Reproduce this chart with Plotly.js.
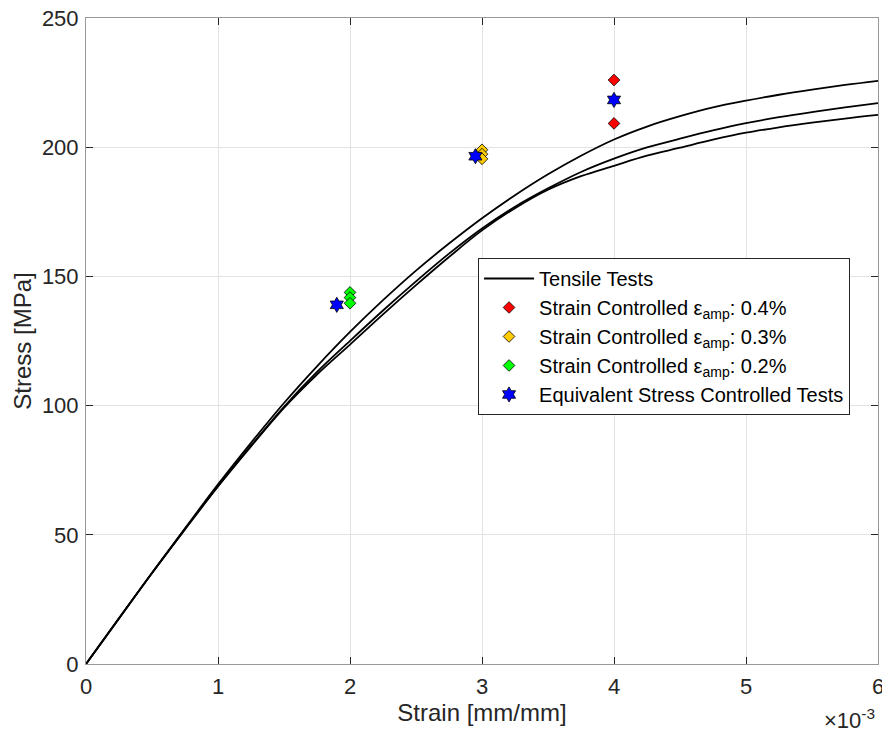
<!DOCTYPE html>
<html>
<head>
<meta charset="utf-8">
<script src="https://cdn.plot.ly/plotly-3.0.1.min.js"></script>
<style>html,body{margin:0;padding:0;background:#fff;}#chart{width:882px;height:733px;}</style>
</head>
<body>
<div id="chart"></div>
<script>
// Tensile test curves (strain in mm/mm, stress in MPa)
const strainGrid = [0, 0.00025, 0.0005, 0.00075, 0.001, 0.00125, 0.0015, 0.00175, 0.002, 0.00225, 0.0025, 0.00275, 0.003, 0.00325, 0.0035, 0.00375, 0.004, 0.00425, 0.0045, 0.00475, 0.005, 0.00525, 0.0055, 0.00575, 0.006];
const stressA = [0, 17.7, 35.25, 52.5, 69.5, 85.6, 101, 115.2, 128.5, 140.8, 152.25, 162.7, 172.5, 181.4, 189.5, 196.7, 203, 208, 212, 215.4, 218, 220.3, 222.3, 224.1, 225.7];
const stressB = [0, 17.65, 35.2, 52.2, 68.8, 84.5, 99.55, 113, 125.05, 136.8, 148.05, 158.8, 168.55, 176.95, 184.05, 190.4, 195.55, 199.9, 203.3, 206.5, 209.3, 211.6, 213.6, 215.4, 217.05];
const stressC = [0, 17.65, 35.2, 52.1, 68.7, 84.2, 99.1, 112, 123.6, 135.3, 146.6, 157.5, 167.8, 176.4, 183.55, 188.8, 192.8, 196.7, 199.8, 202.9, 205.6, 207.7, 209.5, 211.1, 212.5];

// Fatigue test points
const strain04 = [0.004, 0.004];
const stress04 = [226, 209.2];
const strain03 = [0.003, 0.003, 0.003];
const stress03 = [199, 197.3, 195.5];
const strain02 = [0.002, 0.002, 0.002];
const stress02 = [143.8, 141.8, 139.6];
const strainEq = [0.0019, 0.00295, 0.004];
const stressEq = [139, 196.5, 218.3];

const xTickVals = [0, 0.001, 0.002, 0.003, 0.004, 0.005, 0.006];
const xTickText = ['0', '1', '2', '3', '4', '5', '6'];
const yTickVals = [0, 50, 100, 150, 200, 250];

const FONT = 'Liberation Sans, Arial, sans-serif';
const lineStyle = {color: '#000000', width: 1.8, shape: 'spline', smoothing: 1};
const mk = (c, sym, sz) => ({color: c, symbol: sym, size: sz, line: {color: '#000000', width: 0.8}});

const traces = [
  {x: strainGrid, y: stressA, mode: 'lines', line: lineStyle, name: 'Tensile Tests', legendgroup: 't'},
  {x: strainGrid, y: stressB, mode: 'lines', line: lineStyle, name: 'Tensile Tests', legendgroup: 't', showlegend: false},
  {x: strainGrid, y: stressC, mode: 'lines', line: lineStyle, name: 'Tensile Tests', legendgroup: 't', showlegend: false},
  {x: strain04, y: stress04, mode: 'markers', marker: mk('#FF0000', 'diamond', 9), name: 'Strain Controlled ε<sub>amp</sub>: 0.4%'},
  {x: strain03, y: stress03, mode: 'markers', marker: mk('#FFCC00', 'diamond', 9), name: 'Strain Controlled ε<sub>amp</sub>: 0.3%'},
  {x: strain02, y: stress02, mode: 'markers', marker: mk('#00FF00', 'diamond', 9), name: 'Strain Controlled ε<sub>amp</sub>: 0.2%'},
  {x: strainEq, y: stressEq, mode: 'markers', marker: mk('#0000FF', 'hexagram', 11.5), name: 'Equivalent Stress Controlled Tests'}
];

const axisCommon = {
  showgrid: true, gridcolor: '#e3e3e3', gridwidth: 1,
  showline: true, linecolor: '#999999', linewidth: 1, mirror: 'ticks',
  ticks: 'inside', ticklen: 7, tickcolor: '#262626', tickwidth: 1,
  zeroline: false, ticklabeloverflow: 'allow',
  tickfont: {family: FONT, size: 22, color: '#262626'}
};

const layout = {
  width: 882, height: 733,
  margin: {l: 86, r: 4, t: 18, b: 69},
  paper_bgcolor: '#ffffff', plot_bgcolor: '#ffffff',
  font: {family: FONT, color: '#262626'},
  xaxis: Object.assign({}, axisCommon, {
    range: [0, 0.006], tickvals: xTickVals, ticktext: xTickText,
    ticklabelstandoff: 3,
    title: {text: 'Strain [mm/mm]', font: {size: 24, color: '#262626'}, standoff: 1}
  }),
  yaxis: Object.assign({}, axisCommon, {
    range: [0, 250], tickvals: yTickVals,
    ticklabelstandoff: 2,
    title: {text: 'Stress [MPa]', font: {size: 24, color: '#262626'}, standoff: 3}
  }),
  legend: {
    x: 0.495, y: 0.6285, xanchor: 'left', yanchor: 'top',
    bgcolor: '#ffffff', bordercolor: '#262626', borderwidth: 1,
    font: {family: FONT, size: 20, color: '#000000'},
    tracegroupgap: 0, itemwidth: 50
  },
  annotations: [{
    xref: 'paper', yref: 'paper', x: 0.999, y: -0.06, xanchor: 'right', yanchor: 'top',
    text: '×10<sup>-3</sup>', showarrow: false,
    font: {family: FONT, size: 22, color: '#262626'}
  }],
  showlegend: true
};

Plotly.newPlot('chart', traces, layout, {displayModeBar: false, staticPlot: true});
</script>
</body>
</html>
